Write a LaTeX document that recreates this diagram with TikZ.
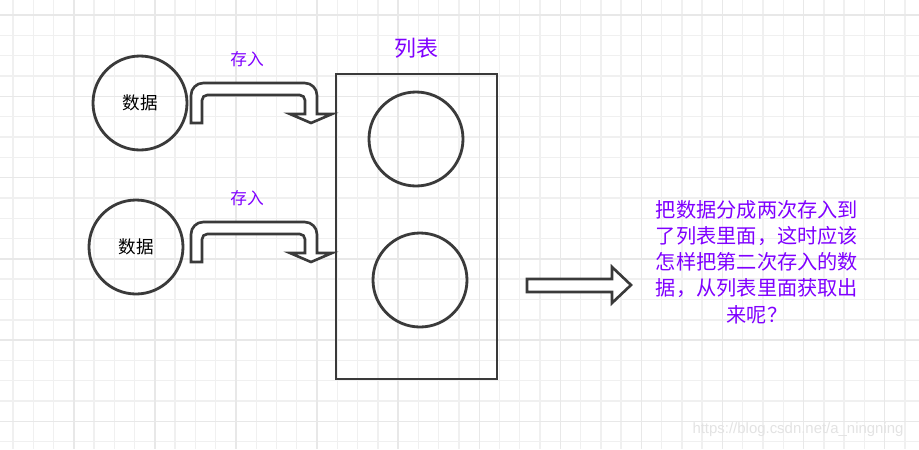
\documentclass[tikz,border=0pt]{standalone}
\usepackage{fontspec}
\newfontfamily\cjk{Noto Sans CJK SC}
\newfontfamily\urlfont{Liberation Sans}
\usetikzlibrary{positioning}
\definecolor{GL}{HTML}{F0F0F0}
\definecolor{GM}{HTML}{E8E8E8}
\definecolor{PU}{HTML}{8000FF}
\definecolor{OL}{HTML}{3A3A3A}
\tikzset{
  ball/.style={circle,draw=OL,line width=1.6pt,minimum size=18.8mm,inner sep=0pt,
    font=\cjk\fontsize{10}{12}\selectfont},
  purplelabel/.style={text=PU,inner sep=0pt,font=\cjk\fontsize{9.5}{11}\selectfont},
  blockarrow/.style={draw=OL,line width=1.5pt,fill=white}
}

\begin{document}
\begin{tikzpicture}[x=0.2mm,y=-0.2mm]
  \fill[white] (0,0) rectangle (919,449);
  \useasboundingbox (0,0) rectangle (919,449);
  \foreach \i in {0,...,44}
    \draw[GL,line width=0.8pt] ({13+\i*20.27},0) -- ({13+\i*20.27},449);
  \foreach \j in {0,...,21}
    \draw[GL,line width=0.8pt] (0,{15+\j*20.32}) -- (919,{15+\j*20.32});
  \foreach \i in {3,7,...,43}
    \draw[GM,line width=0.8pt] ({13+\i*20.27},0) -- ({13+\i*20.27},449);
  \foreach \j in {0,4,...,20}
    \draw[GM,line width=0.8pt] (0,{15+\j*20.32}) -- (919,{15+\j*20.32});

  \node[ball] (data1) at (140,103) {数据};
  \node[ball] (data2) at (136,247) {数据};
  \node[draw=OL,line width=1.4pt,minimum width=32.2mm,minimum height=61mm,inner sep=0pt]
    (list) at (416.5,226.5) {};
  \node[ball] (slot1) at (416,139) {};
  \node[ball] (slot2) at (420,280) {};
  \node[purplelabel,font=\cjk\fontsize{12.5}{14}\selectfont] (title) at (416,48) {列表};

  \foreach \dy/\n in {0/1,139/2}{
    \begin{scope}[shift={(0,\dy)}]
      \node[purplelabel] (store\n) at (247,59) {存入};
      \draw[blockarrow] (191,123) [rounded corners=7pt] -- (191,83) -- (317,83)
        [sharp corners] -- (317,114) -- (332,114) -- (311,123) -- (290,114) -- (305,114)
        [rounded corners=3pt] -- (305,95) -- (202,95) [sharp corners] -- (202,123) -- cycle;
    \end{scope}
  }

  \draw[blockarrow] (527,279) -- (612,279) -- (612,267) -- (631,285) -- (612,303)
    -- (612,292) -- (527,292) -- cycle;

  \node[text=PU,align=center,inner sep=0pt,font=\cjk\fontsize{11.5}{14.9}\selectfont]
    (question) at (757,262)
    {把数据分成两次存入到\\了列表里面，这时应该\\怎样把第二次存入的数\\据，从列表里面获取出\\来呢？};

  \node[text=gray!22,inner sep=0pt,font=\urlfont\fontsize{8.5}{10}\selectfont]
    (mark) at (798,430) {https://blog.csdn.net/a\_ningning};
\end{tikzpicture}
\end{document}
